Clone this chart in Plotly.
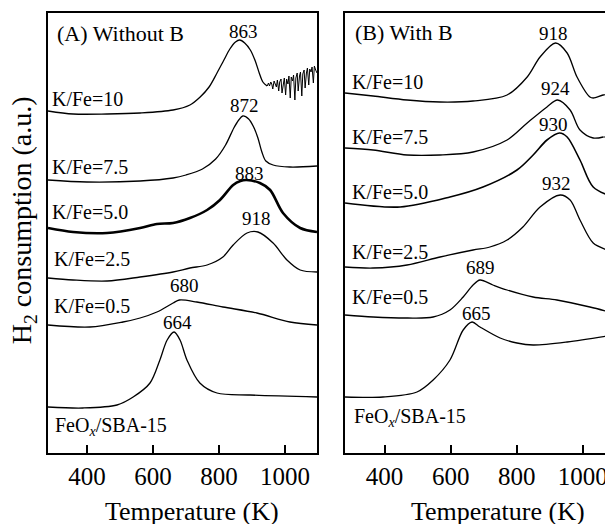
import plotly.graph_objects as go

# ---------------- data (temperature K, stacked H2 consumption a.u.) ----------------
# Panel A: without B
A10_T = [282, 358, 461, 561, 661, 712, 743, 770, 794, 815, 833, 850, 863, 878, 895, 910, 922, 933, 946]
A10_H = [342, 339, 339, 340, 343, 348, 356, 366, 380, 393, 404, 411, 413, 410, 403, 392, 380, 371, 367]
A10N_T = [946, 950, 953, 957, 960, 963, 967, 970, 974, 977, 981, 984, 988, 991, 995, 998, 1002, 1005,
          1009, 1012, 1016, 1019, 1023, 1026, 1030, 1033, 1037, 1040, 1044, 1047, 1051, 1054, 1058,
          1061, 1065, 1068, 1072, 1075, 1079, 1082, 1086, 1089, 1093, 1097]
A10N_H = [367, 370, 367, 371, 369, 364, 372, 370, 366, 373, 362, 371, 374, 360, 372, 375, 358, 374,
          369, 377, 355, 376, 372, 378, 353, 375, 380, 362, 377, 381, 357, 379, 383,
          365, 380, 385, 368, 384, 381, 386, 370, 387, 383, 380]

A75_T = [282, 400, 561, 661, 700, 750, 790, 820, 845, 860, 872, 890, 905, 918, 930, 942, 964, 1015, 1097]
A75_H = [273, 271, 272, 275, 278, 284, 294, 308, 325, 333, 337, 334, 326, 315, 301, 292, 288, 286, 287]

A50_T = [282, 358, 461, 561, 612, 661, 712, 764, 803, 843, 865, 883, 924, 955, 994, 1046, 1097]
A50_H = [225, 221, 220, 225, 229, 230, 235, 243, 253, 268, 272, 273, 270, 263, 240, 225, 221]

A25_T = [282, 358, 461, 561, 661, 712, 764, 812, 843, 885, 918, 964, 1006, 1046, 1097]
A25_H = [175, 173, 172, 176, 181, 185, 188, 196, 208, 220, 221, 210, 193, 183, 181]

A05_T = [282, 409, 509, 561, 612, 661, 680, 733, 812, 915, 1015, 1097]
A05_H = [128, 126, 131, 135, 141, 150, 153, 151, 146, 140, 131, 128]

AFE_T = [282, 388, 491, 540, 591, 621, 643, 664, 682, 703, 742, 794, 894, 1097]
AFE_H = [46, 45, 48, 56, 70, 93, 113, 121, 113, 93, 70, 60, 58, 56]

# Panel B: with B
B10_T = [280, 365, 468, 568, 668, 771, 832, 871, 918, 953, 983, 1022, 1032, 1062, 1092]
B10_H = [360, 357, 353, 351, 352, 358, 376, 396, 410, 400, 376, 356, 355, 358, 360]

B75_T = [280, 365, 468, 568, 668, 771, 832, 892, 924, 962, 992, 1032, 1062]
B75_H = [305, 303, 298, 298, 301, 313, 330, 346, 353, 343, 323, 315, 316]
B75N_T = [1062, 1075, 1081, 1083, 1085, 1092]
B75N_H = [316, 316, 318, 296, 318, 320]

B50_T = [280, 447, 598, 698, 801, 850, 892, 930, 953, 992, 1032, 1092]
B50_H = [250, 246, 256, 266, 283, 298, 313, 320, 316, 293, 266, 256]

B25_T = [280, 365, 468, 568, 668, 719, 771, 819, 871, 932, 962, 992, 1032, 1074, 1092]
B25_H = [186, 185, 188, 196, 203, 206, 213, 226, 246, 258, 253, 233, 210, 203, 201]

B05_T = [280, 365, 468, 547, 598, 638, 668, 689, 728, 771, 850, 922, 1022, 1092]
B05_H = [138, 136, 135, 136, 143, 156, 168, 173, 168, 163, 156, 153, 146, 140]

BFE_T = [280, 395, 498, 547, 598, 638, 665, 689, 750, 801, 850, 953, 1092]
BFE_H = [56, 56, 61, 73, 93, 123, 131, 126, 115, 110, 108, 111, 118]

TICKS = [400, 600, 800, 1000]
SERIES_LABELS = ["K/Fe=10", "K/Fe=7.5", "K/Fe=5.0", "K/Fe=2.5", "K/Fe=0.5", "FeO<sub><i>x</i></sub>/SBA-15"]
PEAKS_A = ["863", "872", "883", "918", "680", "664"]
PEAKS_B = ["918", "924", "930", "932", "689", "665"]

# ---------------- figure ----------------
FONT = "Liberation Serif"
fig = go.Figure()

def add(x, y, xa, ya, width=1.3, shape="spline"):
    fig.add_trace(go.Scatter(x=x, y=y, mode="lines", xaxis=xa, yaxis=ya,
                             line=dict(color="black", width=width, shape=shape,
                                       smoothing=0.9 if shape == "spline" else None),
                             showlegend=False, hoverinfo="skip"))

add(A10_T, A10_H, "x", "y")
add(A10N_T, A10N_H, "x", "y", width=1.0, shape="linear")
add(A75_T, A75_H, "x", "y")
add(A50_T, A50_H, "x", "y", width=2.6)
add(A25_T, A25_H, "x", "y")
add(A05_T, A05_H, "x", "y")
add(AFE_T, AFE_H, "x", "y")

add(B10_T, B10_H, "x2", "y2")
add(B75_T, B75_H, "x2", "y2")
add(B75N_T, B75N_H, "x2", "y2", width=1.2, shape="linear")
add(B50_T, B50_H, "x2", "y2", width=1.6)
add(B25_T, B25_H, "x2", "y2")
add(B05_T, B05_H, "x2", "y2")
add(BFE_T, BFE_H, "x2", "y2")

axis_common = dict(showgrid=False, zeroline=False, showline=True, linecolor="black", linewidth=2,
                   ticks="inside", ticklen=8, tickwidth=2, tickcolor="black",
                   tickvals=TICKS, tickfont=dict(family=FONT, size=25, color="black"))

fig.update_layout(
    width=605, height=516,
    margin=dict(l=40, r=0, t=5, b=71),
    paper_bgcolor="white", plot_bgcolor="white",
    xaxis=dict(domain=[0, 0.4761], range=[282, 1097], mirror=True, anchor="y", **axis_common),
    xaxis2=dict(domain=[0.5257, 1], range=[280, 1092], mirror=True, anchor="y2", **axis_common),
    yaxis=dict(range=[0, 440], showticklabels=False, ticks="", showgrid=False, zeroline=False,
               showline=True, linecolor="black", linewidth=2, mirror=True, anchor="x"),
    yaxis2=dict(range=[0, 440], showticklabels=False, ticks="", showgrid=False, zeroline=False,
                showline=True, linecolor="black", linewidth=2, mirror=False, anchor="x2"),
)

ann = []
def lab(text, x, y, xr, yr, size, xanchor="center"):
    ann.append(dict(text=text, x=x, y=y, xref=xr, yref=yr, showarrow=False,
                    xanchor=xanchor, yanchor="middle",
                    font=dict(family=FONT, size=size, color="black")))

# panel A labels
lab("(A) Without B", 303, 420, "x", "y", 22, "left")
labA_y = [354, 286, 241, 194, 147, 27]
labA_x = [288, 288, 288, 294, 294, 297]
for t, xx, yy in zip(SERIES_LABELS, labA_x, labA_y):
    lab(t, xx, yy, "x", "y", 20, "left")
pkA_x = [873, 876, 891, 915, 697, 673]
pkA_y = [422, 348, 280, 235, 168, 131]
for t, xx, yy in zip(PEAKS_A, pkA_x, pkA_y):
    lab(t, xx, yy, "x", "y", 19)

# panel B labels
lab("(B) With B", 304, 421, "x2", "y2", 22, "left")
labB_y = [371, 316, 261, 201, 156, 36]
labB_x = [295, 295, 295, 295, 295, 301]
for t, xx, yy in zip(SERIES_LABELS, labB_x, labB_y):
    lab(t, xx, yy, "x2", "y2", 20, "left")
pkB_x = [913, 919, 913, 922, 689, 677]
pkB_y = [420, 365, 329, 270, 186, 140]
for t, xx, yy in zip(PEAKS_B, pkB_x, pkB_y):
    lab(t, xx, yy, "x2", "y2", 19)

# axis titles
lab("Temperature (K)", 0.2549, -0.134, "paper", "paper", 26)
lab("Temperature (K)", 0.7965, -0.134, "paper", "paper", 26)
ann.append(dict(text="H<sub>2</sub> consumption (a.u.)", x=-0.044, y=0.5295, xref="paper", yref="paper",
                showarrow=False, textangle=-90, xanchor="center", yanchor="middle",
                font=dict(family=FONT, size=28, color="black")))

fig.update_layout(annotations=ann)
fig.write_html("out.html")
